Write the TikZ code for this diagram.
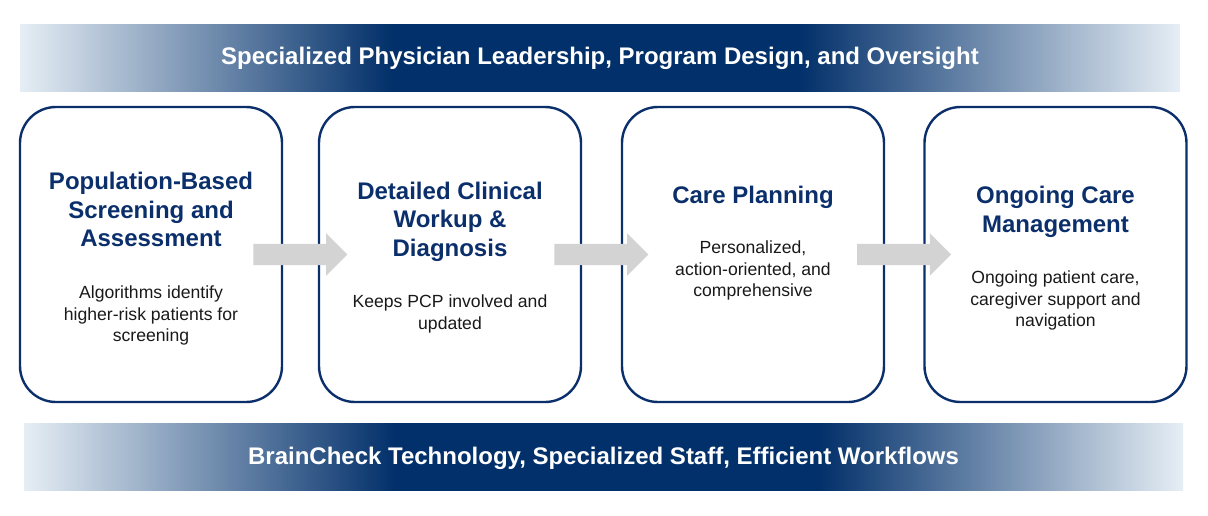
\documentclass[tikz,border=0pt]{standalone}
\usepackage{fontspec}
\setmainfont{Liberation Sans}
\usetikzlibrary{calc,shapes.arrows}

\definecolor{deepblue}{HTML}{0B2F6B}
\definecolor{bandblue}{HTML}{02306A}
\definecolor{bandlight}{HTML}{E6EEF5}
\definecolor{arrowgray}{HTML}{D3D3D3}

% light -> dark -> light, the path is fitted to 25bp..75bp
\pgfdeclarehorizontalshading{topband}{100bp}{color(0bp)=(bandlight); color(25bp)=(bandlight);
  color(41bp)=(bandblue); color(58.6bp)=(bandblue); color(75bp)=(bandlight); color(100bp)=(bandlight)}
\pgfdeclarehorizontalshading{baseband}{100bp}{color(0bp)=(bandlight); color(25bp)=(bandlight);
  color(41bp)=(bandblue); color(59.3bp)=(bandblue); color(75bp)=(bandlight); color(100bp)=(bandlight)}

\begin{document}
\begin{tikzpicture}[x=1pt,y=-1pt,
  stage/.style={draw=deepblue,line width=2.4pt,rounded corners=36pt,
    minimum width=262pt,minimum height=295pt,inner sep=0pt},
  stagetitle/.style={text=deepblue,font=\fontsize{24}{28.5}\selectfont\bfseries,
    align=center,inner sep=0pt},
  stagebody/.style={text=black!90,font=\fontsize{17.6}{21.5}\selectfont,
    align=center,inner sep=0pt},
  bandtext/.style={text=white,font=\fontsize{24}{28}\selectfont\bfseries,inner sep=0pt},
  flow/.style={single arrow,fill=arrowgray,minimum height=94pt,inner xsep=0pt,
    inner ysep=10.5pt,single arrow head extend=10.5pt,xshift=-5.5pt}]
  \useasboundingbox (0,0) rectangle (1208,515);

  % top band
  \shade[shading=topband] (20,24) rectangle (1180,91);
  \node[bandtext] (lead) at (600,58) {Specialized Physician Leadership, Program Design, and Oversight};

  % the four stages
  \node[stage] (s1) at (151,254.5) {};
  \node[stage] (s2) at (450,254.5) {};
  \node[stage] (s3) at (753,254.5) {};
  \node[stage] (s4) at (1055.5,254.5) {};

  \node[stagetitle] (t1) at (151,209.5) {Population-Based\\Screening and\\Assessment};
  \node[stagebody]  (d1) at (151,315.5) {Algorithms identify\\higher-risk patients for\\screening};

  \node[stagetitle] (t2) at (450,221.5) {Detailed Clinical\\Workup \&\\Diagnosis};
  \node[stagebody]  (d2) at (450,314) {Keeps PCP involved and\\updated};

  \node[stagetitle] (t3) at (753,197) {Care Planning};
  \node[stagebody]  (d3) at (753,270.5) {Personalized,\\action-oriented, and\\comprehensive};

  \node[stagetitle] (t4) at (1055.5,212) {Ongoing Care\\Management};
  \node[stagebody]  (d4) at (1055.5,300.5) {Ongoing patient care,\\caregiver support and\\navigation};

  % arrows between stages
  \node[flow] (a12) at ($(s1.east)!0.5!(s2.west)$) {};
  \node[flow] (a23) at ($(s2.east)!0.5!(s3.west)$) {};
  \node[flow] (a34) at ($(s3.east)!0.5!(s4.west)$) {};

  % bottom band
  \shade[shading=baseband] (24,423) rectangle (1183,490);
  \node[bandtext] (base) at (603.5,458) {BrainCheck Technology, Specialized Staff, Efficient Workflows};
\end{tikzpicture}
\end{document}
